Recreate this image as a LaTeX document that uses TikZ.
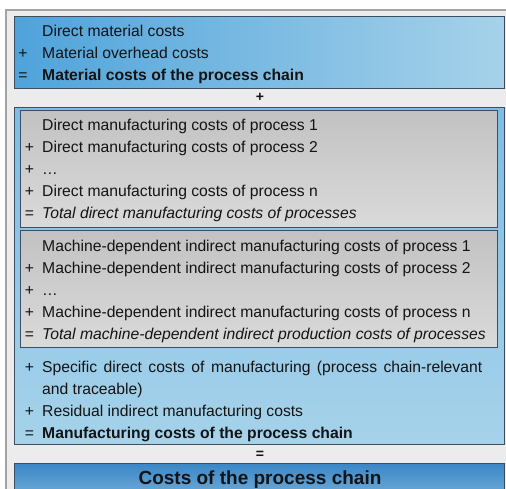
\documentclass[tikz,border=0pt]{standalone}
\usepackage{fontspec}
\setmainfont{Liberation Sans}
\usetikzlibrary{positioning}
\definecolor{panelgray}{HTML}{ECECEC}
\definecolor{framegray}{HTML}{A3A3A3}
\definecolor{boxline}{HTML}{3C4E60}
\definecolor{blueA}{HTML}{4FA3DB}
\definecolor{blueB}{HTML}{A6D2EA}
\definecolor{blueC}{HTML}{7DBDE4}
\definecolor{blueD}{HTML}{3A86C6}
\definecolor{grayA}{HTML}{C2C2C2}
\definecolor{grayB}{HTML}{DADADA}
\definecolor{textcol}{HTML}{141414}
\tikzset{
bluebox/.style={
  draw=boxline,
  line width=0.8pt,
  left color=blueA,
  right color=blueB
  },
lowbox/.style={
  draw=boxline,
  line width=0.8pt,
  top color=blueC,
  bottom color=blueB
  },
graybox/.style={
  draw=boxline,
  line width=0.8pt,
  top color=grayA,
  bottom color=grayB
  },
entry/.style={anchor=base west, inner sep=0pt, text=textcol,
  font=\fontsize{15.7}{18}\selectfont},
sign/.style={anchor=base, inner sep=0pt, text=textcol,
  font=\fontsize{15.7}{18}\selectfont},
joint/.style={inner sep=0pt, text=textcol,
  font=\fontsize{14}{16}\selectfont\bfseries}
}

\begin{document}
\begin{tikzpicture}[x=1pt,y=-1pt]
\useasboundingbox (0,0) rectangle (506,488);
\begin{scope}
    \clip (0,0) rectangle (506,488);
    \draw[fill=panelgray, draw=framegray, line width=1.2pt] (6,10) rectangle (530,510);
    % material block
    \draw[bluebox] (14,16) rectangle (504,88);
    % manufacturing block with the two process groups
    \draw[lowbox] (14,107) rectangle (504,444);
    \draw[graybox] (20,110) rectangle (497,227);
    \draw[graybox] (20,230) rectangle (497,347);
    % result block
    \draw[draw=boxline, line width=0.8pt, top color=blueD, bottom color=blueB]
        (14,463) rectangle (504,530);
\end{scope}

\node[entry] (mat1) at (42,36) {Direct material costs};
\node[sign] (matp) at (23,58) {+};
\node[entry] (mat2) at (42,58) {Material overhead costs};
\node[sign] (mate) at (23,80) {=};
\node[entry] (mat3) at (42,80) {\bfseries Material costs of the process chain};

\node[joint] (plus) at (260,97) {+};

\node[entry] (dir1) at (42,130.5) {Direct manufacturing costs of process 1};
\node[sign] (dirp2) at (29.5,152.5) {+};
\node[entry] (dir2) at (42,152.5) {Direct manufacturing costs of process 2};
\node[sign] (dirp3) at (29.5,174.5) {+};
\node[entry] (dir3) at (42,174.5) {\ldots};
\node[sign] (dirpn) at (29.5,196.5) {+};
\node[entry] (dirn) at (42,196.5) {Direct manufacturing costs of process n};
\node[sign] (dire) at (29.5,218.5) {=};
\node[entry] (dirsum) at (42,218.5) {\itshape Total direct manufacturing costs of processes};

\node[entry] (mac1) at (42,251.5) {Machine-dependent indirect manufacturing costs of process 1};
\node[sign] (macp2) at (29.5,273.5) {+};
\node[entry] (mac2) at (42,273.5) {Machine-dependent indirect manufacturing costs of process 2};
\node[sign] (macp3) at (29.5,295.5) {+};
\node[entry] (mac3) at (42,295.5) {\ldots};
\node[sign] (macpn) at (29.5,317.5) {+};
\node[entry] (macn) at (42,317.5) {Machine-dependent indirect manufacturing costs of process n};
\node[sign] (mace) at (29.5,339.5) {=};
\node[entry] (macsum) at (42,339.5) {\itshape Total machine-dependent indirect production costs of processes};

\node[sign] (spcp) at (29.5,372.5) {+};
\node[entry] (spc1) at (42,372.5) {\makebox[440pt][s]{Specific direct costs of manufacturing (process chain-relevant}};
\node[entry] (spc2) at (42,394.5) {and traceable)};
\node[sign] (resp) at (29.5,416) {+};
\node[entry] (res) at (42,416) {Residual indirect manufacturing costs};
\node[sign] (manue) at (29.5,438) {=};
\node[entry] (manu) at (42,438) {\bfseries Manufacturing costs of the process chain};

\node[joint] (equal) at (260,455) {=};

\node[anchor=base, inner sep=0pt, text=textcol, font=\fontsize{19}{22}\selectfont\bfseries]
    (total) at (260,484) {Costs of the process chain};
\end{tikzpicture}
\end{document}
